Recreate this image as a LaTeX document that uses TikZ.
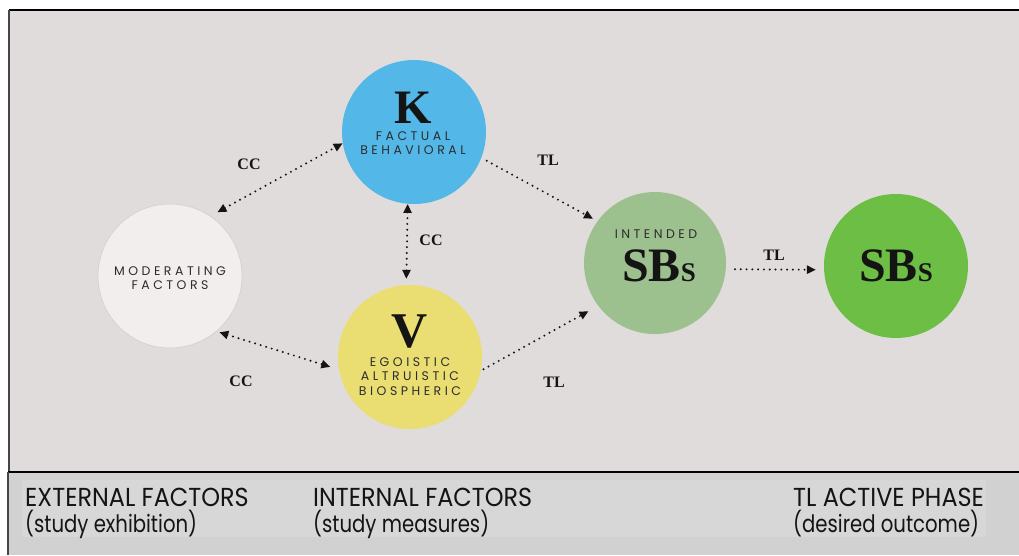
\documentclass[tikz,border=0pt]{standalone}
\usepackage{fontspec}
\setmainfont{Liberation Serif}
\newfontfamily\spaced[LetterSpace=28]{Poppins}
\newfontfamily\panelcaps[FakeStretch=0.92]{Poppins}
\newfontfamily\panelsmall[FakeStretch=0.82]{Poppins}
\usetikzlibrary{arrows.meta}

\definecolor{paper}{RGB}{224,220,219}
\definecolor{band}{RGB}{209,209,209}
\definecolor{bandlight}{RGB}{215,215,215}
\definecolor{frameleft}{RGB}{70,70,70}
\definecolor{modfill}{RGB}{241,238,237}
\definecolor{modedge}{RGB}{212,206,205}
\definecolor{kblue}{RGB}{83,184,232}
\definecolor{vyellow}{RGB}{234,221,113}
\definecolor{intgreen}{RGB}{157,192,143}
\definecolor{sbgreen}{RGB}{108,190,69}
\definecolor{ink}{RGB}{20,20,20}
\definecolor{capsink}{RGB}{45,45,45}

\tikzset{
  bubble/.style={circle, minimum size=144pt, inner sep=0pt},
  tip/.tip={Triangle[length=9pt,width=8pt]},
  link/.style={draw=ink, line width=2.2pt, line cap=round,
    dash pattern=on 0pt off 5.8pt, -tip},
  twoway/.style={link, tip-tip},
  tag/.style={font=\fontsize{16}{16}\selectfont\bfseries, text=ink, inner sep=0pt},
  caps/.style={font=\spaced\fontsize{12.5}{14.5}\selectfont, text=capsink,
    align=center, inner sep=0pt},
  letter/.style={font=\fontsize{48}{48}\selectfont\bfseries, text=ink,
    inner sep=0pt, anchor=base},
  panel/.style={font=\panelcaps\fontsize{26}{26}\selectfont, text=ink,
    inner sep=0pt, anchor=base west},
  panelsub/.style={panel, font=\panelsmall\fontsize{24}{24}\selectfont},
}

\newcommand{\sbs}{SB{\fontsize{27}{27}\selectfont S}}

\begin{document}
\begin{tikzpicture}[x=1pt,y=-1pt]
  \useasboundingbox (0,0) rectangle (1019,555);
  \fill[white] (0,0) rectangle (1019,555);

  % upper panel
  \fill[paper] (9,10) rectangle (1019,472);
  \draw[line width=1.4pt, black] (9,10) -- (1019,10);
  \draw[line width=2pt, frameleft] (9,10) -- (9,472);

  % lower panel
  \fill[band] (8,472) rectangle (1019,555);
  \fill[bandlight] (22,480) rectangle (986,537);
  \draw[line width=1.4pt, black] (8,472) -- (1019,472);
  \draw[line width=2pt, frameleft] (8,472) -- (8,555);

  % circles
  \node[bubble, fill=modfill, draw=modedge, line width=0.6pt] (mod) at (170,276) {};
  \node[bubble, fill=kblue] (k) at (414,132) {};
  \node[bubble, fill=vyellow] (v) at (410,357) {};
  \node[bubble, fill=intgreen, minimum size=142pt] (int) at (655,263) {};
  \node[bubble, fill=sbgreen] (sbs) at (896,266) {};

  % circle texts
  \node[caps] (modtxt) at (170,278) {MODERATING\\FACTORS};
  \node[letter] (ktitle) at (413,123) {K};
  \node[caps] (ktxt) at (413,143) {FACTUAL\\BEHAVIORAL};
  \node[letter, font=\fontsize{50}{50}\selectfont\bfseries] (vtitle) at (410,347) {V};
  \node[caps] (vtxt) at (410,376.5) {EGOISTIC\\ALTRUISTIC\\BIOSPHERIC};
  \node[caps] (inttxt) at (656,234) {INTENDED};
  \node[letter] (inttitle) at (659,281) {\sbs};
  \node[letter] (sbstitle) at (896,281) {\sbs};

  % connectors
  \draw[twoway, shorten <=8pt] (mod.56) -- (k.189);
  \draw[twoway, shorten >=6pt] (k.265) -- (v.93);
  \draw[twoway, shorten <=3pt, shorten >=9pt] (mod.-50) -- (v.190);
  \draw[link, shorten <=6pt, shorten >=5pt] (k.-21) -- (int.144);
  \draw[link, shorten <=3pt, shorten >=11pt] (v.-11) -- (int.217);
  \draw[link, shorten <=9pt, shorten >=8pt] (int.-5) -- (sbs.183);

  % connector labels
  \node[tag] (cc1) at (249,164) {CC};
  \node[tag] (cc2) at (431,240) {CC};
  \node[tag] (cc3) at (241,381) {CC};
  \node[tag] (tl1) at (548,160) {TL};
  \node[tag] (tl2) at (554,382) {TL};
  \node[tag] (tl3) at (774,255) {TL};

  % phase captions
  \node[panel] (ext) at (25,506) {EXTERNAL FACTORS};
  \node[panelsub] (extsub) at (25,532) {(study exhibition)};
  \node[panel] (intl) at (313,506) {INTERNAL FACTORS};
  \node[panelsub] (intlsub) at (313,532) {(study measures)};
  \node[panel] (act) at (793,506) {TL ACTIVE PHASE};
  \node[panelsub] (actsub) at (793,532) {(desired outcome)};
\end{tikzpicture}
\end{document}
